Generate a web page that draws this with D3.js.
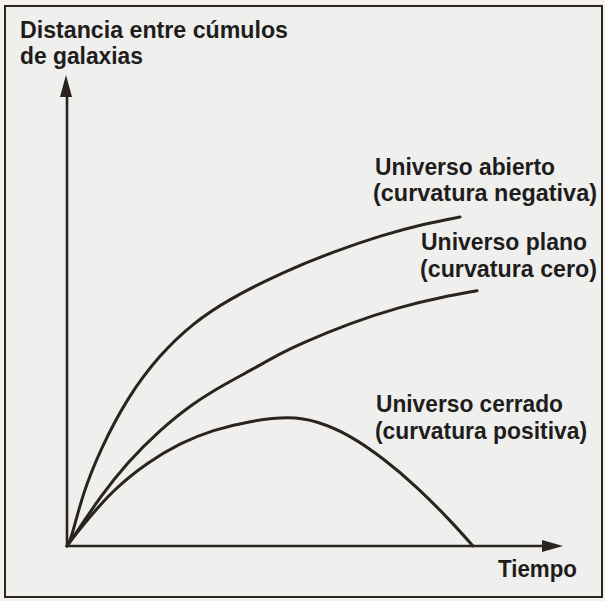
<!DOCTYPE html>
<html>
<head>
<meta charset="utf-8">
<script src="https://cdn.jsdelivr.net/npm/d3@7"></script>
<style>
  html, body { margin: 0; padding: 0; background: #f4f1eb; }
  svg { display: block; }
  text { font-family: "Liberation Sans", Arial, sans-serif; font-weight: bold; fill: #1f1d1c; }
</style>
</head>
<body>
<svg id="chart" width="605" height="601"></svg>
<script>
// ---- Data (time, distance) in arbitrary units ----
const openTime    = [0, 0.04, 0.1, 0.32, 0.66, 1.2, 1.86, 2.52, 3.2, 4.32, 5.32, 6.32, 7.12, 7.86];
const openDist    = [0, 0.08, 0.22, 1.13, 2.04, 3.15, 4.08, 4.74, 5.23, 5.83, 6.26, 6.62, 6.85, 7.0];
const flatTime    = [0, 0.08, 0.26, 0.66, 1.2, 1.86, 2.52, 3.2, 3.66, 4.26, 4.66, 5.66, 6.66, 7.52, 8.2];
const flatDist    = [0, 0.12, 0.40, 1.04, 1.77, 2.47, 3.04, 3.47, 3.73, 4.09, 4.30, 4.74, 5.09, 5.30, 5.43];
const closedTime  = [0, 0.08, 0.4, 0.92, 1.6, 2.26, 2.92, 3.66, 4.46, 5.0, 5.66, 6.32, 7.0, 7.66, 8.12];
const closedDist  = [0, 0.12, 0.55, 1.19, 1.77, 2.19, 2.47, 2.66, 2.76, 2.66, 2.36, 1.87, 1.26, 0.55, 0];

const seriesNames = ["Universo abierto", "Universo plano", "Universo cerrado"];
const seriesNotes = ["(curvatura negativa)", "(curvatura cero)", "(curvatura positiva)"];
const yTitle = ["Distancia entre cúmulos", "de galaxias"];
const xTitle = "Tiempo";

const svg = d3.select("#chart");

// frame
svg.append("rect")
  .attr("x", 5).attr("y", 6).attr("width", 597).attr("height", 591)
  .attr("fill", "#efefee").attr("stroke", "#2a2624").attr("stroke-width", 2);

const x = d3.scaleLinear().domain([0, 10]).range([67, 567]);
const y = d3.scaleLinear().domain([0, 10]).range([546, 76]);

const ink = "#2a231f";

// axes
const xMax = 9.92, yMax = 10.02;
svg.append("line")
  .attr("x1", x(0)).attr("y1", y(0)).attr("x2", x(xMax) - 10).attr("y2", y(0))
  .attr("stroke", ink).attr("stroke-width", 2.6);
svg.append("line")
  .attr("x1", x(0)).attr("y1", y(0) + 1).attr("x2", x(0)).attr("y2", y(yMax) + 10)
  .attr("stroke", ink).attr("stroke-width", 2.6);
// arrowheads
svg.append("path")
  .attr("d", `M${x(xMax)},${y(0)} L${x(xMax) - 21},${y(0) - 6} L${x(xMax) - 21},${y(0) + 6} Z`)
  .attr("fill", ink);
svg.append("path")
  .attr("d", `M${x(0) - 1},${y(yMax)} L${x(0) - 7},${y(yMax) + 22} L${x(0) + 5},${y(yMax) + 22} Z`)
  .attr("fill", ink);

// curves
const line = d3.line()
  .x(d => x(d[0])).y(d => y(d[1]))
  .curve(d3.curveBasis);

const series = [
  d3.zip(openTime, openDist),
  d3.zip(flatTime, flatDist),
  d3.zip(closedTime, closedDist)
];
svg.selectAll("path.curve").data(series).enter().append("path")
  .attr("class", "curve")
  .attr("d", line)
  .attr("fill", "none")
  .attr("stroke", ink)
  .attr("stroke-width", 3)
  .attr("stroke-linecap", "round");

// texts
function label(txt, xx, yy, len) {
  svg.append("text")
    .attr("x", xx).attr("y", yy)
    .attr("font-size", 23)
    .attr("textLength", len)
    .attr("lengthAdjust", "spacingAndGlyphs")
    .text(txt);
}
label(yTitle[0], 20, 38, 268);
label(yTitle[1], 20, 64, 123);

label(seriesNames[0], 375, 175, 180);
label(seriesNotes[0], 373, 201, 224);
label(seriesNames[1], 421, 250, 166);
label(seriesNotes[1], 420, 277, 177);
label(seriesNames[2], 376, 412, 187);
label(seriesNotes[2], 375, 439, 212);

label(xTitle, 498, 577, 79);
</script>
</body>
</html>
